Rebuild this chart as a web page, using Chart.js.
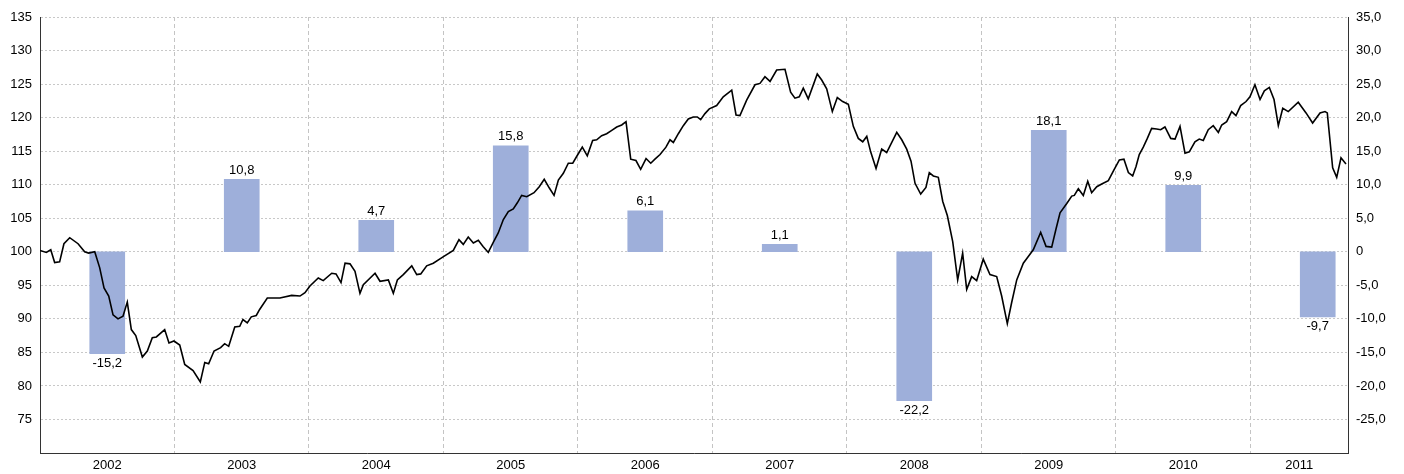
<!DOCTYPE html>
<html>
<head>
<meta charset="utf-8">
<script src="https://cdn.jsdelivr.net/npm/chart.js@4/dist/chart.umd.min.js"></script>
<style>
  body { margin: 0; background: #fff; }
  #wrap { width: 1404px; height: 474px; position: relative; }
</style>
</head>
<body>
<div id="wrap"><canvas id="grafico"></canvas></div>
<script>
// años y variación anual (%)
const years = ['2002','2003','2004','2005','2006','2007','2008','2009','2010','2011'];
const yearChange = [-15.2, 10.8, 4.7, 15.8, 6.1, 1.1, -22.2, 18.1, 9.9, -9.7];

// índice (base 100), fechas en años decimales
const indexDates = [
  2002.000, 2002.047, 2002.080, 2002.109, 2002.146, 2002.178, 2002.221, 2002.283, 2002.332, 2002.362,
  2002.407, 2002.444, 2002.476, 2002.511, 2002.543, 2002.580, 2002.617, 2002.649, 2002.679, 2002.712,
  2002.761, 2002.798, 2002.835, 2002.865, 2002.927, 2002.959, 2002.996, 2003.039, 2003.076, 2003.138,
  2003.192, 2003.225, 2003.254, 2003.294, 2003.343, 2003.373, 2003.403, 2003.448, 2003.485, 2003.509,
  2003.541, 2003.571, 2003.608, 2003.633, 2003.690, 2003.784, 2003.871, 2003.933, 2003.970, 2004.007,
  2004.069, 2004.106, 2004.169, 2004.201, 2004.238, 2004.268, 2004.305, 2004.342, 2004.379, 2004.404,
  2004.491, 2004.528, 2004.590, 2004.627, 2004.657, 2004.701, 2004.764, 2004.801, 2004.831, 2004.875,
  2004.924, 2004.994, 2005.073, 2005.115, 2005.147, 2005.184, 2005.222, 2005.259, 2005.294, 2005.333,
  2005.370, 2005.407, 2005.445, 2005.482, 2005.519, 2005.549, 2005.581, 2005.619, 2005.673, 2005.712,
  2005.749, 2005.787, 2005.822, 2005.854, 2005.891, 2005.928, 2005.961, 2005.990, 2006.032, 2006.069,
  2006.109, 2006.139, 2006.176, 2006.213, 2006.251, 2006.288, 2006.325, 2006.357, 2006.392, 2006.431,
  2006.466, 2006.506, 2006.541, 2006.572, 2006.610, 2006.654, 2006.684, 2006.709, 2006.746, 2006.783,
  2006.820, 2006.857, 2006.887, 2006.912, 2006.944, 2006.976, 2007.031, 2007.080, 2007.143, 2007.175,
  2007.204, 2007.254, 2007.316, 2007.353, 2007.390, 2007.428, 2007.477, 2007.539, 2007.581, 2007.613,
  2007.645, 2007.675, 2007.712, 2007.779, 2007.812, 2007.849, 2007.891, 2007.928, 2007.968, 2008.010,
  2008.047, 2008.084, 2008.117, 2008.147, 2008.176, 2008.216, 2008.258, 2008.295, 2008.370, 2008.407,
  2008.444, 2008.476, 2008.506, 2008.548, 2008.587, 2008.612, 2008.642, 2008.679, 2008.712, 2008.746,
  2008.786, 2008.823, 2008.860, 2008.890, 2008.927, 2008.964, 2009.013, 2009.063, 2009.113, 2009.150,
  2009.192, 2009.224, 2009.262, 2009.311, 2009.348, 2009.385, 2009.440, 2009.480, 2009.522, 2009.554,
  2009.584, 2009.634, 2009.671, 2009.690, 2009.720, 2009.757, 2009.790, 2009.819, 2009.857, 2009.894,
  2009.943, 2009.985, 2010.025, 2010.059, 2010.092, 2010.124, 2010.149, 2010.173, 2010.203, 2010.233,
  2010.265, 2010.302, 2010.332, 2010.364, 2010.407, 2010.439, 2010.476, 2010.513, 2010.545, 2010.587,
  2010.619, 2010.649, 2010.686, 2010.723, 2010.761, 2010.786, 2010.823, 2010.860, 2010.892, 2010.927,
  2010.967, 2010.996, 2011.033, 2011.071, 2011.103, 2011.140, 2011.175, 2011.207, 2011.240, 2011.281,
  2011.355, 2011.413, 2011.462, 2011.517, 2011.554, 2011.571, 2011.611, 2011.641, 2011.673, 2011.710
];
const indexValues = [
  100.2, 99.9, 100.3, 98.4, 98.5, 101.2, 102.1, 101.2, 100.0, 99.8,
  100.0, 97.6, 94.6, 93.4, 90.6, 90.0, 90.4, 92.5, 88.4, 87.5,
  84.3, 85.2, 87.2, 87.3, 88.4, 86.4, 86.7, 86.1, 83.2, 82.3,
  80.6, 83.5, 83.3, 85.2, 85.7, 86.3, 85.9, 88.8, 88.9, 89.9,
  89.4, 90.3, 90.5, 91.4, 93.1, 93.1, 93.5, 93.4, 93.9, 94.9,
  96.1, 95.7, 96.8, 96.7, 95.4, 98.3, 98.2, 97.1, 93.8, 95.1,
  96.8, 95.6, 95.8, 93.8, 95.8, 96.6, 97.9, 96.6, 96.7, 97.9,
  98.3, 99.2, 100.2, 101.8, 101.1, 102.2, 101.3, 101.7, 100.8, 99.9,
  101.4, 102.8, 104.8, 106.0, 106.4, 107.3, 108.4, 108.2, 108.8, 109.7,
  110.8, 109.5, 108.4, 110.7, 111.7, 113.2, 113.2, 114.2, 115.6, 114.3,
  116.6, 116.7, 117.3, 117.6, 118.1, 118.6, 118.9, 119.4, 113.8, 113.6,
  112.3, 113.9, 113.2, 113.8, 114.5, 115.6, 116.7, 116.3, 117.6, 118.8,
  119.8, 120.1, 120.1, 119.7, 120.6, 121.3, 121.8, 123.1, 124.1, 120.4,
  120.3, 122.6, 124.9, 125.1, 126.1, 125.4, 127.1, 127.2, 123.8, 122.9,
  123.1, 124.4, 122.8, 126.5, 125.6, 124.3, 120.9, 123.0, 122.4, 122.0,
  118.7, 116.9, 116.4, 117.2, 114.9, 112.4, 115.3, 114.8, 117.8, 116.7,
  115.3, 113.5, 110.2, 108.6, 109.6, 111.8, 111.3, 111.1, 107.5, 105.4,
  101.5, 95.8, 99.8, 94.4, 96.3, 95.7, 98.9, 96.6, 96.3, 93.4,
  89.3, 92.4, 95.8, 98.3, 99.3, 100.3, 102.9, 100.8, 100.7, 103.4,
  105.8, 107.2, 108.3, 108.4, 109.4, 108.4, 110.5, 108.8, 109.7, 110.1,
  110.6, 112.2, 113.7, 113.8, 111.8, 111.3, 112.7, 114.5, 115.6, 116.9,
  118.4, 118.3, 118.2, 118.6, 116.9, 116.8, 118.7, 114.7, 114.9, 116.4,
  116.8, 116.6, 118.2, 118.8, 117.8, 118.9, 119.4, 120.9, 120.3, 121.8,
  122.4, 123.1, 124.9, 122.7, 124.0, 124.5, 122.7, 118.8, 121.4, 120.9,
  122.3, 120.7, 119.2, 120.7, 120.9, 120.7, 112.5, 111.1, 114.0, 113.1
];

// escalas
const xStart = 2002;
const xEnd = 2011.725;
const leftMin = 70, leftMax = 135;
const rightMin = -30, rightMax = 35;

function formatoComa(v) {
    if (v === 0) return '0';
    return v.toFixed(1).replace('.', ',');
}

// ticks del eje x: límites de año (rejilla) + centros (etiquetas)
const xTicks = [];
years.forEach((y, i) => {
    const a = Number(y);
    if (i > 0) xTicks.push(a);
    const fin = Math.min(a + 1, xEnd);
    xTicks.push((a + fin) / 2);
});

// etiquetas de las barras
const etiquetasBarras = {
    id: 'etiquetasBarras',
    afterDatasetsDraw(chart) {
        const ctx = chart.ctx;
        const meta = chart.getDatasetMeta(1);
        ctx.save();
        ctx.font = '13px "Liberation Sans", Arial, sans-serif';
        ctx.fillStyle = '#000';
        ctx.textAlign = 'center';
        ctx.textBaseline = 'middle';
        meta.data.forEach((bar, i) => {
            const v = yearChange[i];
            const yPos = v >= 0 ? bar.y - 9 : bar.y + 10;
            ctx.fillText(formatoComa(v), bar.x, yPos);
        });
        ctx.restore();
    }
};

Chart.defaults.font.family = '"Liberation Sans", Arial, sans-serif';
Chart.defaults.font.size = 13;
Chart.defaults.color = '#000';

const ctx = document.getElementById('grafico').getContext('2d');
new Chart(ctx, {
    data: {
        datasets: [
            {
                type: 'line',
                data: indexDates.map((d, i) => ({ x: d, y: indexValues[i] })),
                yAxisID: 'y',
                borderColor: '#000',
                borderWidth: 1.6,
                pointRadius: 0,
                tension: 0,
                order: 0
            },
            {
                type: 'bar',
                data: years.map((y, i) => ({ x: Number(y) + 0.5, y: yearChange[i] })),
                yAxisID: 'y1',
                backgroundColor: '#9eafda',
                barThickness: 35,
                order: 1
            }
        ]
    },
    plugins: [etiquetasBarras],
    options: {
        responsive: true,
        maintainAspectRatio: false,
        animation: false,
        layout: { padding: { top: 17, left: 0, right: 0, bottom: 0 } },
        plugins: { legend: { display: false }, tooltip: { enabled: false } },
        scales: {
            x: {
                type: 'linear',
                min: xStart,
                max: xEnd,
                offset: false,
                afterBuildTicks: (scale) => { scale.ticks = xTicks.map(v => ({ value: v })); },
                afterFit: (scale) => { scale.height = 21; },
                ticks: {
                    autoSkip: false,
                    maxRotation: 0,
                    padding: 5,
                    callback: (v) => Number.isInteger(v) ? '' : String(Math.floor(v))
                },
                grid: {
                    offset: false,
                    drawTicks: false,
                    color: (c) => (c.tick && Number.isInteger(c.tick.value)) ? '#c4c4c4' : 'rgba(0,0,0,0)'
                },
                border: { display: true, color: '#333', width: 1, dash: [4, 3] }
            },
            y: {
                position: 'left',
                min: leftMin,
                max: leftMax,
                afterFit: (scale) => { scale.width = 40; },
                ticks: {
                    stepSize: 5,
                    padding: 8,
                    callback: (v) => v === leftMin ? '' : v
                },
                grid: { drawTicks: false, color: '#c8c8c8' },
                border: { color: '#333', width: 1, dash: [2, 2] }
            },
            y1: {
                position: 'right',
                min: rightMin,
                max: rightMax,
                afterFit: (scale) => { scale.width = 56; },
                ticks: {
                    stepSize: 5,
                    padding: 8,
                    callback: (v) => v === rightMin ? '' : formatoComa(v)
                },
                grid: { display: false, drawTicks: false },
                border: { color: '#333', width: 1 }
            }
        }
    }
});
</script>
</body>
</html>
